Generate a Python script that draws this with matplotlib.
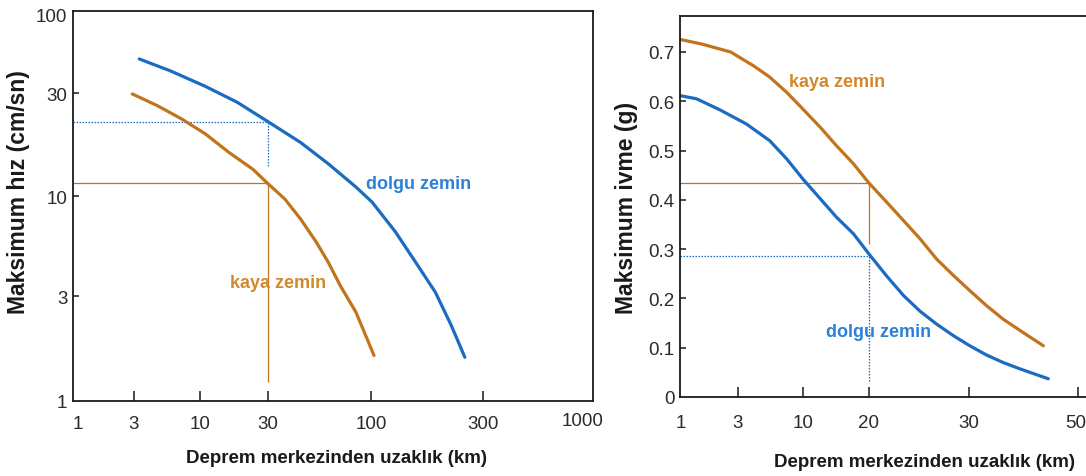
import matplotlib

matplotlib.use("Agg")

import matplotlib.pyplot as plt
import numpy as np
from matplotlib import font_manager
from matplotlib.ticker import FixedLocator, NullLocator
from matplotlib.transforms import ScaledTranslation

# --- data -----------------------------------------------------------------

# left panel: peak velocity (cm/sn) vs distance (km), log-like axes
LEFT_TICKS_X = [1, 3, 10, 30, 100, 300, 1000]
LEFT_TICKS_Y = [1, 3, 10, 30, 100]

dolgu_hiz_km = [3.3, 5.8, 10.9, 18.2, 30, 43.9, 60.7, 83.9, 101, 127, 155, 188, 220, 251]
dolgu_hiz = [50.4, 42.1, 33.2, 27.2, 22.1, 17.7, 14.1, 11.0, 9.3, 6.5, 4.5, 3.14, 2.2, 1.58]

kaya_hiz_km = [2.9, 4.6, 7.2, 10.9, 16.0, 23.5, 30, 36.5, 43.9, 52.8, 60.7, 69.8, 83.9, 103]
kaya_hiz = [29.7, 26.2, 22.7, 19.4, 15.9, 13.3, 11.4, 9.65, 7.58, 5.73, 4.5, 3.4, 2.53, 1.61]

# reading guides on the left panel
hiz_guide_km = 30
hiz_guide_dolgu = 22.0
hiz_guide_dolgu_low = 13.7
hiz_guide_kaya = 11.5
hiz_guide_kaya_low = 1.22

# right panel: peak acceleration (g) vs distance (km)
RIGHT_TICKS_X = [1, 3, 10, 20, 30, 50]
RIGHT_TICKS_Y = [0, 0.1, 0.2, 0.3, 0.4, 0.5, 0.6, 0.7]

kaya_ivme_km = [1.0, 1.5, 2.6, 4.0, 5.4, 7.4, 10, 12, 14.2, 17, 20, 21.5, 23, 24.6,
                26.3, 28.2, 30.1, 32.6, 35.2, 38.1, 42.5]
kaya_ivme = [0.725, 0.716, 0.700, 0.672, 0.649, 0.618, 0.584, 0.547, 0.510, 0.473,
             0.434, 0.395, 0.358, 0.321, 0.280, 0.246, 0.216, 0.185, 0.158, 0.135, 0.104]

dolgu_ivme_km = [1.0, 1.35, 2.1, 3.5, 5.4, 7.4, 10, 12, 14.2, 17, 20, 21.5, 23, 24.6,
                 26.3, 28.2, 30.1, 32.6, 35.2, 38.1, 43.5]
dolgu_ivme = [0.611, 0.605, 0.583, 0.554, 0.520, 0.483, 0.442, 0.402, 0.365, 0.331,
              0.290, 0.245, 0.206, 0.174, 0.148, 0.124, 0.104, 0.085, 0.070, 0.057, 0.037]

ivme_guide_km = 20
ivme_guide_kaya = 0.434
ivme_guide_kaya_low = 0.31
ivme_guide_dolgu = 0.287
ivme_guide_dolgu_low = 0.033

# --- styling ---------------------------------------------------------------

BLUE = "#1c6bc2"
ORANGE = "#c2741c"
BLUE_TEXT = "#2c80d6"
ORANGE_TEXT = "#d4882c"
SPINE = "#1a1a1a"

available = {font.name for font in font_manager.fontManager.ttflist}
if "Liberation Sans Narrow" in available:
    NARROW = "Liberation Sans Narrow"
    SHRINK = 1.12
else:
    NARROW = "Liberation Sans"
    SHRINK = 1.0
WIDE = "Liberation Sans"

TICK_SIZE = 13.5 * SHRINK
NOTE_SIZE = 13 * SHRINK
XLABEL_SIZE = 13.5 * SHRINK

# where the (hand drawn) tick values sit along each axis, in output pixels
LEFT_X_PIXELS = [78, 134, 200, 268, 371, 483, 583]
LEFT_Y_PIXELS = [0, 105, 205, 308, 387]
RIGHT_X_PIXELS = [681, 738, 803, 869, 969, 1078]


def piecewise_log_scale(
    values: list[float],
    positions: list[float],
):
    logs = np.log10(values)
    pos = np.asarray(positions, dtype=float)
    low_slope = (pos[1] - pos[0]) / (logs[1] - logs[0])
    high_slope = (pos[-1] - pos[-2]) / (logs[-1] - logs[-2])

    def forward(x):
        lx = np.log10(np.clip(np.asarray(x, dtype=float), 1e-6, None))
        out = np.interp(lx, logs, pos)
        out = np.where(lx < logs[0], pos[0] + (lx - logs[0]) * low_slope, out)
        out = np.where(lx > logs[-1], pos[-1] + (lx - logs[-1]) * high_slope, out)
        return out

    def inverse(p):
        p = np.asarray(p, dtype=float)
        lx = np.interp(p, pos, logs)
        lx = np.where(p < pos[0], logs[0] + (p - pos[0]) / low_slope, lx)
        lx = np.where(p > pos[-1], logs[-1] + (p - pos[-1]) / high_slope, lx)
        return 10 ** lx

    return forward, inverse


def style_axis(axis, x_pad: float) -> None:
    for spine in axis.spines.values():
        spine.set_color(SPINE)
        spine.set_linewidth(1.3)

    axis.tick_params(axis="x", direction="in", length=7.5, width=1.1, color=SPINE, pad=x_pad)
    axis.tick_params(axis="y", direction="in", length=4.5, width=1.1, color=SPINE, pad=4)

    for label in axis.get_xticklabels() + axis.get_yticklabels():
        label.set_fontfamily(NARROW)
        label.set_fontsize(TICK_SIZE)
        label.set_color("#2a2a2a")


W, H = 1086, 477
figure = plt.figure(figsize=(W / 100, H / 100), dpi=100)

# ---------------- left panel ----------------
left = figure.add_axes([73 / W, (H - 402) / H, 520 / W, 390 / H])

fx, ix = piecewise_log_scale(LEFT_TICKS_X, LEFT_X_PIXELS)
fy, iy = piecewise_log_scale(LEFT_TICKS_Y, LEFT_Y_PIXELS)
left.set_xscale("function", functions=(fx, ix))
left.set_yscale("function", functions=(fy, iy))

x_low = float(ix(73))
left.set_xlim(x_low, float(ix(593)))
left.set_ylim(float(iy(0)), float(iy(390)))

dotted = (0, (1.2, 1.2))
left.hlines(hiz_guide_dolgu, x_low, hiz_guide_km, color=BLUE, linewidth=0.9, linestyles=dotted)
left.vlines(hiz_guide_km, hiz_guide_dolgu_low, hiz_guide_dolgu, color=BLUE, linewidth=0.9, linestyles=dotted)
left.hlines(hiz_guide_kaya, x_low, hiz_guide_km, color=ORANGE, linewidth=0.9)
left.vlines(hiz_guide_km, hiz_guide_kaya_low, hiz_guide_kaya, color=ORANGE, linewidth=0.9)

left.plot(dolgu_hiz_km, dolgu_hiz, color=BLUE, linewidth=2.3, solid_capstyle="round", solid_joinstyle="round")
left.plot(kaya_hiz_km, kaya_hiz, color=ORANGE, linewidth=2.3, solid_capstyle="round", solid_joinstyle="round")

left.xaxis.set_major_locator(FixedLocator(LEFT_TICKS_X[:-1]))
left.xaxis.set_minor_locator(NullLocator())
left.set_xticklabels([str(v) for v in LEFT_TICKS_X[:-1]])
left.yaxis.set_major_locator(FixedLocator(LEFT_TICKS_Y))
left.yaxis.set_minor_locator(NullLocator())
left.set_yticklabels([str(v) for v in LEFT_TICKS_Y])
style_axis(left, x_pad=10)
left.xaxis.get_major_ticks()[0].tick1line.set_visible(False)
for tick in (left.yaxis.get_major_ticks()[0], left.yaxis.get_major_ticks()[-1]):
    tick.tick1line.set_visible(False)

left.text(
    LEFT_TICKS_X[-1], -0.028, str(LEFT_TICKS_X[-1]),
    transform=left.get_xaxis_transform(), ha="center", va="top",
    fontfamily=NARROW, fontsize=TICK_SIZE, color="#2a2a2a",
)

left.text(160, 11.4, "dolgu zemin", color=BLUE_TEXT, fontfamily=NARROW,
          fontsize=NOTE_SIZE, fontweight="bold", ha="center", va="center")
left.text(33.6, 3.55, "kaya zemin", color=ORANGE_TEXT, fontfamily=NARROW,
          fontsize=NOTE_SIZE, fontweight="bold", ha="center", va="center")

# ---------------- right panel ----------------
right = figure.add_axes([680 / W, (H - 398) / H, 415 / W, 381 / H])

rfx, rix = piecewise_log_scale(RIGHT_TICKS_X, RIGHT_X_PIXELS)
right.set_xscale("function", functions=(rfx, rix))
r_low = float(rix(680))
right.set_xlim(r_low, float(rix(1095)))
right.set_ylim(0, 0.773)

right.hlines(ivme_guide_kaya, r_low, ivme_guide_km, color=ORANGE, linewidth=0.9)
right.vlines(ivme_guide_km, ivme_guide_kaya_low, ivme_guide_kaya, color=ORANGE, linewidth=0.9)
right.hlines(ivme_guide_dolgu, r_low, ivme_guide_km, color=BLUE, linewidth=0.9, linestyles=dotted)
right.vlines(ivme_guide_km, ivme_guide_dolgu_low, ivme_guide_dolgu, color=BLUE, linewidth=0.9, linestyles=dotted)

right.plot(kaya_ivme_km, kaya_ivme, color=ORANGE, linewidth=2.3, solid_capstyle="round", solid_joinstyle="round")
right.plot(dolgu_ivme_km, dolgu_ivme, color=BLUE, linewidth=2.3, solid_capstyle="round", solid_joinstyle="round")

right.xaxis.set_major_locator(FixedLocator(RIGHT_TICKS_X))
right.xaxis.set_minor_locator(NullLocator())
right.set_xticklabels([str(v) for v in RIGHT_TICKS_X])
right.yaxis.set_major_locator(FixedLocator(RIGHT_TICKS_Y))
right.set_yticklabels(["0"] + [f"{v:.1f}" for v in RIGHT_TICKS_Y[1:]])
style_axis(right, x_pad=12)
right.xaxis.get_major_ticks()[0].tick1line.set_visible(False)
right.yaxis.get_major_ticks()[0].tick1line.set_visible(False)

# the last label sits against the image edge: keep it inside the picture
edge_label = right.xaxis.get_major_ticks()[-1].label1
edge_label.set_horizontalalignment("right")
edge_label.set_transform(
    edge_label.get_transform() + ScaledTranslation(6 / 72, 0, figure.dpi_scale_trans)
)

right.text(14.3, 0.641, "kaya zemin", color=ORANGE_TEXT, fontfamily=NARROW,
           fontsize=NOTE_SIZE, fontweight="bold", ha="center", va="center")
right.text(20.8, 0.132, "dolgu zemin", color=BLUE_TEXT, fontfamily=NARROW,
           fontsize=NOTE_SIZE, fontweight="bold", ha="center", va="center")

# ---------------- axis titles ----------------
label_style = dict(fontweight="bold", color="#1a1a1a", ha="center", va="center")
figure.text(336 / W, 1 - 459 / H, "Deprem merkezinden uzaklık (km)",
            fontfamily=NARROW, fontsize=XLABEL_SIZE, **label_style)
figure.text(924 / W, 1 - 463 / H, "Deprem merkezinden uzaklık (km)",
            fontfamily=NARROW, fontsize=XLABEL_SIZE, **label_style)
figure.text(19 / W, 1 - 192 / H, "Maksimum hız (cm/sn)", rotation=90,
            fontfamily=WIDE, fontsize=16.5, **label_style)
figure.text(627 / W, 1 - 208 / H, "Maksimum ivme (g)", rotation=90,
            fontfamily=WIDE, fontsize=16.5, **label_style)

figure.savefig("out.png", dpi=100)
